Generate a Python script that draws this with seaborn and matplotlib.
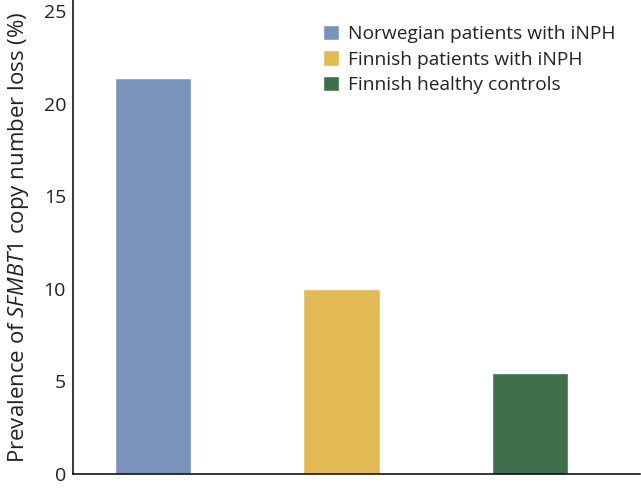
import matplotlib
matplotlib.use("Agg")
import matplotlib.pyplot as plt
import seaborn as sns
import pandas as pd

# data
groups = ["Norwegian patients with iNPH", "Finnish patients with iNPH", "Finnish healthy controls"]
prevalence = [21.4, 10.0, 5.45]
colors = ["#7b93bb", "#e3bb55", "#3e6e4a"]

sns.set_theme(style="white")
plt.rcParams["font.family"] = ["Open Sans", "DejaVu Sans"]
plt.rcParams["mathtext.fontset"] = "custom"
plt.rcParams["mathtext.rm"] = "Open Sans"
plt.rcParams["mathtext.it"] = "Open Sans:italic"

df = pd.DataFrame({"group": groups, "prevalence": prevalence})

fig = plt.figure(figsize=(6.41, 4.90), dpi=100)
ax = fig.add_axes([73 / 641, 16 / 490, 567 / 641, 474 / 490])

sns.barplot(data=df, x="group", y="prevalence", hue="group", palette=colors,
            order=groups, hue_order=groups, width=0.405, saturation=1,
            legend=True, ax=ax)

ax.set_xlim(-0.425, 2.585)
ax.set_ylim(0, 25.6)
ax.set_yticks([0, 5, 10, 15, 20, 25])
ax.set_xticks([])
ax.set_xlabel("")
ax.set_ylabel(r"Prevalence of $\mathit{SFMBT1}$ copy number loss (%)", fontsize=16, color="#222222", labelpad=9)
ax.tick_params(axis="y", length=0, pad=5, labelsize=14, labelcolor="#222222")

for s in ["top", "right"]:
    ax.spines[s].set_visible(False)
for s in ["left", "bottom"]:
    ax.spines[s].set_color("black")
    ax.spines[s].set_linewidth(1.1)

leg = ax.legend(loc="upper left", bbox_to_anchor=(0.4267, 0.963), frameon=False,
                fontsize=13.8, handlelength=0.88, handleheight=0.85,
                handletextpad=0.45, labelspacing=0.36, borderaxespad=0)
for t in leg.get_texts():
    t.set_color("#222222")

fig.savefig("out.png", dpi=100)
